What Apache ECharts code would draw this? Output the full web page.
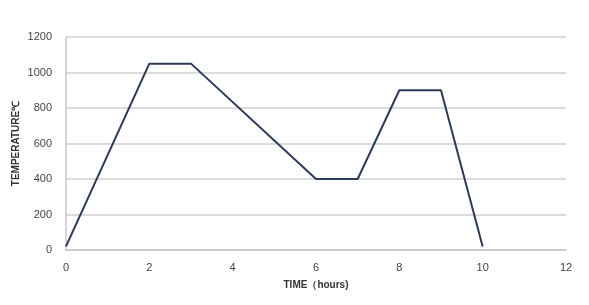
<!DOCTYPE html>
<html>
<head>
<meta charset="utf-8">
<script src="https://cdn.jsdelivr.net/npm/echarts@6/dist/echarts.min.js"></script>
<style>html,body{margin:0;padding:0;background:#fff;}#c{width:589px;height:305px;}</style>
</head>
<body>
<div id="c"></div>
<script>
var timeHours = [0, 2, 3, 6, 7, 8, 9, 10];
var temperature = [20, 1050, 1050, 400, 400, 900, 900, 20];
var xTicks = [0, 2, 4, 6, 8, 10, 12];
var yTicks = [0, 200, 400, 600, 800, 1000, 1200];

var chart = echarts.init(document.getElementById('c'));
chart.setOption({
  animation: false,
  backgroundColor: '#ffffff',
  grid: { left: 66, right: 23, top: 37, bottom: 55, containLabel: false, outerBoundsMode: 'none' },
  xAxis: {
    type: 'value', min: xTicks[0], max: xTicks[xTicks.length - 1], interval: 2,
    name: 'TIME（hours)', nameLocation: 'middle', nameGap: 30,
    nameTextStyle: { fontFamily: 'Liberation Sans', fontSize: 10, fontWeight: 'bold', color: '#333' },
    axisLine: { show: true, lineStyle: { color: '#c8c8c8', width: 1.5 } },
    axisTick: { show: false },
    splitLine: { show: false },
    axisLabel: { color: '#444', fontSize: 11, fontFamily: 'Liberation Sans', margin: 12 }
  },
  yAxis: {
    type: 'value', min: yTicks[0], max: yTicks[yTicks.length - 1], interval: 200,
    name: 'TEMPERATURE℃', nameLocation: 'middle', nameGap: 45, nameMoveOverlap: false,
    nameTextStyle: { fontFamily: 'Liberation Sans', fontSize: 10, fontWeight: 'bold', color: '#333' },
    axisLine: { show: true, lineStyle: { color: '#c8c8c8', width: 1.5 } },
    axisTick: { show: false },
    splitLine: { show: true, lineStyle: { color: '#cfcfcf', width: 1.5 } },
    axisLabel: { color: '#444', fontSize: 11, fontFamily: 'Liberation Sans', margin: 14,
      formatter: function (v) { return String(v); } }
  },
  series: [{
    type: 'line',
    data: timeHours.map(function (t, i) { return [t, temperature[i]]; }),
    symbol: 'none',
    lineStyle: { color: '#2c3a58', width: 2 }
  }]
});
</script>
</body>
</html>
